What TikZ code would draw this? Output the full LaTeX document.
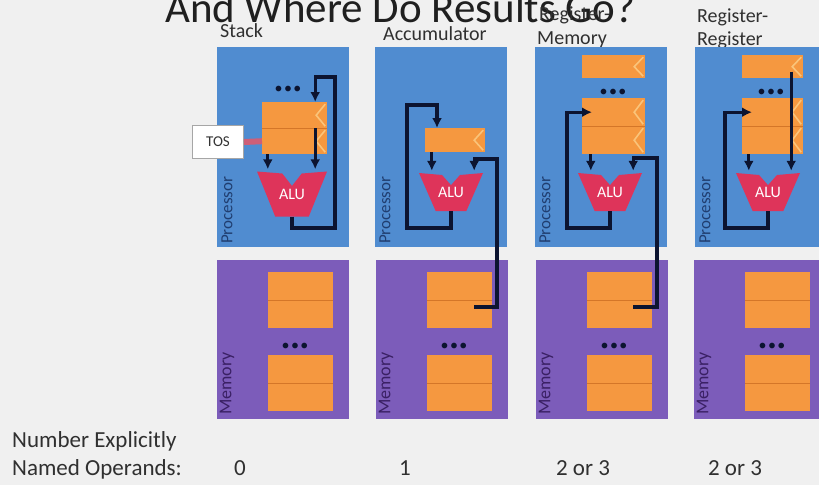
\documentclass[tikz,border=0pt]{standalone}
\usepackage{fontspec}
\setmainfont{Carlito}
\usetikzlibrary{calc,arrows.meta}

\definecolor{bgc}{RGB}{240,240,240}
\definecolor{procblue}{RGB}{80,140,208}
\definecolor{mempurple}{RGB}{124,92,186}
\definecolor{regorange}{RGB}{245,152,64}
\definecolor{regline}{RGB}{212,118,40}
\definecolor{regchev}{RGB}{250,196,122}
\definecolor{alured}{RGB}{222,52,90}
\definecolor{arrowc}{RGB}{12,20,48}
\definecolor{toslink}{RGB}{205,95,120}
\definecolor{proctext}{RGB}{32,62,112}
\definecolor{memtext}{RGB}{58,32,100}
\definecolor{labtext}{RGB}{48,48,48}

\newcommand{\setfs}[1]{\fontsize{#1}{#1}\selectfont}

\begin{document}
\begin{tikzpicture}[x=1pt,y=-1pt,
  procbox/.style={fill=procblue,draw=none,inner sep=0,anchor=north west,
    minimum width=132,minimum height=200},
  membox/.style={fill=mempurple,draw=none,inner sep=0,anchor=north west,
    minimum width=132,minimum height=159},
  regrow/.style={fill=regorange,draw=none,inner sep=0,anchor=north west,
    path picture={\draw[regchev,line width=1.6]
      ([xshift=-2pt,yshift=-2pt]path picture bounding box.north east)
      -- ([xshift=-11pt]path picture bounding box.east)
      -- ([xshift=-2pt,yshift=2pt]path picture bounding box.south east);}},
  memcell/.style={fill=regorange,draw=none,inner sep=0,anchor=north west,
    minimum width=65,minimum height=28},
  divider/.style={draw=regline,line width=1.5},
  alu/.style={inner sep=0,draw=none,text=white,font=\setfs{16},
    path picture={\fill[alured]
      (path picture bounding box.north west)
      -- ($(path picture bounding box.north west)!0.36!(path picture bounding box.north east)+(0,2)$)
      -- ($(path picture bounding box.north)!0.32!(path picture bounding box.south)$)
      -- ($(path picture bounding box.north west)!0.64!(path picture bounding box.north east)+(0,2)$)
      -- (path picture bounding box.north east)
      -- ($(path picture bounding box.south west)!0.74!(path picture bounding box.south east)$)
      -- ($(path picture bounding box.south west)!0.26!(path picture bounding box.south east)$)
      -- cycle;}},
  flow/.style={draw=arrowc,line width=3.3,-{Latex[length=10pt,width=10pt]}},
  dots/.style={text=arrowc,inner sep=0,font=\setfs{16}},
  plabel/.style={text=proctext,inner sep=0,anchor=west,rotate=90,font=\setfs{17}},
  mlabel/.style={text=memtext,inner sep=0,anchor=west,rotate=90,font=\setfs{18}},
  toplab/.style={text=labtext,inner sep=0,anchor=base west,font=\setfs{20}},
  botlab/.style={text=labtext,inner sep=0,anchor=base west,font=\setfs{23}},
  numlab/.style={text=labtext,inner sep=0,anchor=base,font=\setfs{23}},
  tosbox/.style={fill=white,draw=gray!70,line width=1,inner sep=0,anchor=north west,
    minimum width=51,minimum height=33,font=\setfs{15},text=black!80}
]
\useasboundingbox (0,0) rectangle (819,485);
\fill[bgc] (0,0) rectangle (819,485);

% heading and column titles
\node[anchor=base west,inner sep=0,font=\setfs{43},text=black!88] (title) at (165,22)
  {And Where Do Results Go?};
\node[toplab] (h1) at (220,37) {Stack};
\node[toplab] (h2) at (383,40) {Accumulator};
\node[toplab] (h3a) at (539,20) {Register-};
\node[toplab] (h3b) at (537,44) {Memory};
\node[toplab] (h4a) at (697,22) {Register-};
\node[toplab] (h4b) at (697,45) {Register};

% processor and memory panels
\node[procbox] (p1) at (217,47) {};
\node[procbox] (p2) at (375,47) {};
\node[procbox] (p3) at (535,47) {};
\node[procbox] (p4) at (695,47) {};
\node[membox] (m1) at (217,260) {};
\node[membox] (m2) at (376,260) {};
\node[membox] (m3) at (536,260) {};
\node[membox] (m4) at (694,260) {};

\node[plabel] (pl1) at (227,244) {Processor};
\node[plabel] (pl2) at (385,244) {Processor};
\node[plabel] (pl3) at (545,244) {Processor};
\node[plabel] (pl4) at (705,244) {Processor};
\node[mlabel] (ml1) at (227,415) {Memory};
\node[mlabel] (ml2) at (386,415) {Memory};
\node[mlabel] (ml3) at (546,415) {Memory};
\node[mlabel] (ml4) at (704,415) {Memory};

% memory words in each panel
\foreach \c/\x in {1/268,2/427,3/587,4/745}{
  \node[memcell] (m\c a) at (\x,272) {};
  \node[memcell] (m\c b) at (\x,300) {};
  \node[memcell] (m\c c) at (\x,355) {};
  \node[memcell] (m\c d) at (\x,383) {};
  \draw[divider] (m\c a.south west) -- (m\c a.south east);
  \draw[divider] (m\c c.south west) -- (m\c c.south east);
  \node[dots] (md\c) at (\x+27,347) {•\kern1.5pt•\kern1.5pt•};
}

% registers
\node[regrow,minimum width=65,minimum height=26] (r1a) at (262,102) {};
\node[regrow,minimum width=65,minimum height=26] (r1b) at (262,128) {};
\draw[divider] (r1a.south west) -- (r1a.south east);
\node[dots] (d1) at (288,90) {•\kern1.5pt•\kern1.5pt•};

\node[regrow,minimum width=60,minimum height=24] (r2) at (425,128) {};

\node[regrow,minimum width=63,minimum height=23] (r3t) at (582,55) {};
\node[regrow,minimum width=63,minimum height=28] (r3a) at (582,98) {};
\node[regrow,minimum width=63,minimum height=28] (r3b) at (582,126) {};
\draw[divider] (r3a.south west) -- (r3a.south east);
\node[dots] (d3) at (613,93) {•\kern1.5pt•\kern1.5pt•};

\node[regrow,minimum width=61,minimum height=23] (r4t) at (742,55) {};
\node[regrow,minimum width=61,minimum height=28] (r4a) at (742,98) {};
\node[regrow,minimum width=61,minimum height=28] (r4b) at (742,126) {};
\draw[divider] (r4a.south west) -- (r4a.south east);
\node[dots] (d4) at (771,93) {•\kern1.5pt•\kern1.5pt•};

% top-of-stack marker
\node[tosbox] (tos) at (192,125) {TOS};
\draw[toslink,line width=6] (tos.east) -- (r1b.west);

% ALUs
\node[alu,minimum width=70,minimum height=45] (alu1) at (292,194) {\raisebox{-5pt}{ALU}};
\node[alu,minimum width=64,minimum height=38] (alu2) at (451,192) {\raisebox{-5pt}{ALU}};
\node[alu,minimum width=64,minimum height=38] (alu3) at (610,192) {\raisebox{-5pt}{ALU}};
\node[alu,minimum width=64,minimum height=38] (alu4) at (768,192) {\raisebox{-5pt}{ALU}};

% stack machine
\coordinate (c1L) at ([xshift=11pt]alu1.north west);
\coordinate (c1R) at ([xshift=-12pt]alu1.north east);
\coordinate (k1a) at (335,228);
\coordinate (k1b) at (335,77);
\draw[flow] (c1L |- r1b.south) -- ([yshift=2pt]c1L);
\draw[flow] (c1R |- r1a.south) -- ([yshift=2pt]c1R);
\draw[flow] (alu1.south) |- (k1a) -- (k1b) -- (c1R |- k1b) -- (c1R |- r1a.north);

% accumulator machine
\coordinate (c2L) at ([xshift=13pt]alu2.north west);
\coordinate (c2R) at ([xshift=-9pt]alu2.north east);
\coordinate (k2m) at (497,307);
\coordinate (k2n) at (497,159);
\coordinate (k2a) at (407,228);
\coordinate (k2b) at (407,105);
\coordinate (c2T) at (437,105);
\draw[flow] (c2L |- r2.south) -- ([yshift=2pt]c2L);
\draw[flow] (c2R |- k2m) -- (k2m) -- (k2n) -- (c2R |- k2n) -- ([yshift=2pt]c2R);
\draw[flow] (alu2.south) |- (k2a) -- (k2b) -- (c2T) -- (c2T |- r2.north);

% register-memory machine
\coordinate (c3L) at ([xshift=13pt]alu3.north west);
\coordinate (c3R) at ([xshift=-9pt]alu3.north east);
\coordinate (k3m) at (657,307);
\coordinate (k3n) at (657,158);
\coordinate (k3a) at (567,228);
\draw[flow] (c3L |- r3b.south) -- ([yshift=2pt]c3L);
\draw[flow] (c3R |- k3m) -- (k3m) -- (k3n) -- (c3R |- k3n) -- ([yshift=2pt]c3R);
\draw[flow] (alu3.south) |- (k3a) -- (k3a |- r3a.west) -- ([xshift=10pt]r3a.west);

% register-register machine
\coordinate (c4L) at ([xshift=13pt]alu4.north west);
\coordinate (c4R) at ([xshift=-9pt]alu4.north east);
\coordinate (k4a) at (725,228);
\draw[flow] (c4L |- r4b.south) -- ([yshift=2pt]c4L);
\draw[flow] ([yshift=-5pt]c4R |- r4t.center) -- ([yshift=2pt]c4R);
\draw[flow] (alu4.south) |- (k4a) -- (k4a |- r4a.west) -- ([xshift=10pt]r4a.west);

% operand counts
\node[botlab] (q1) at (12,447) {Number Explicitly};
\node[botlab] (q2) at (12,475) {Named Operands:};
\node[numlab] (n1) at (240,475) {0};
\node[numlab] (n2) at (405,475) {1};
\node[numlab] (n3) at (583,475) {2 or 3};
\node[numlab] (n4) at (735,475) {2 or 3};
\end{tikzpicture}
\end{document}
